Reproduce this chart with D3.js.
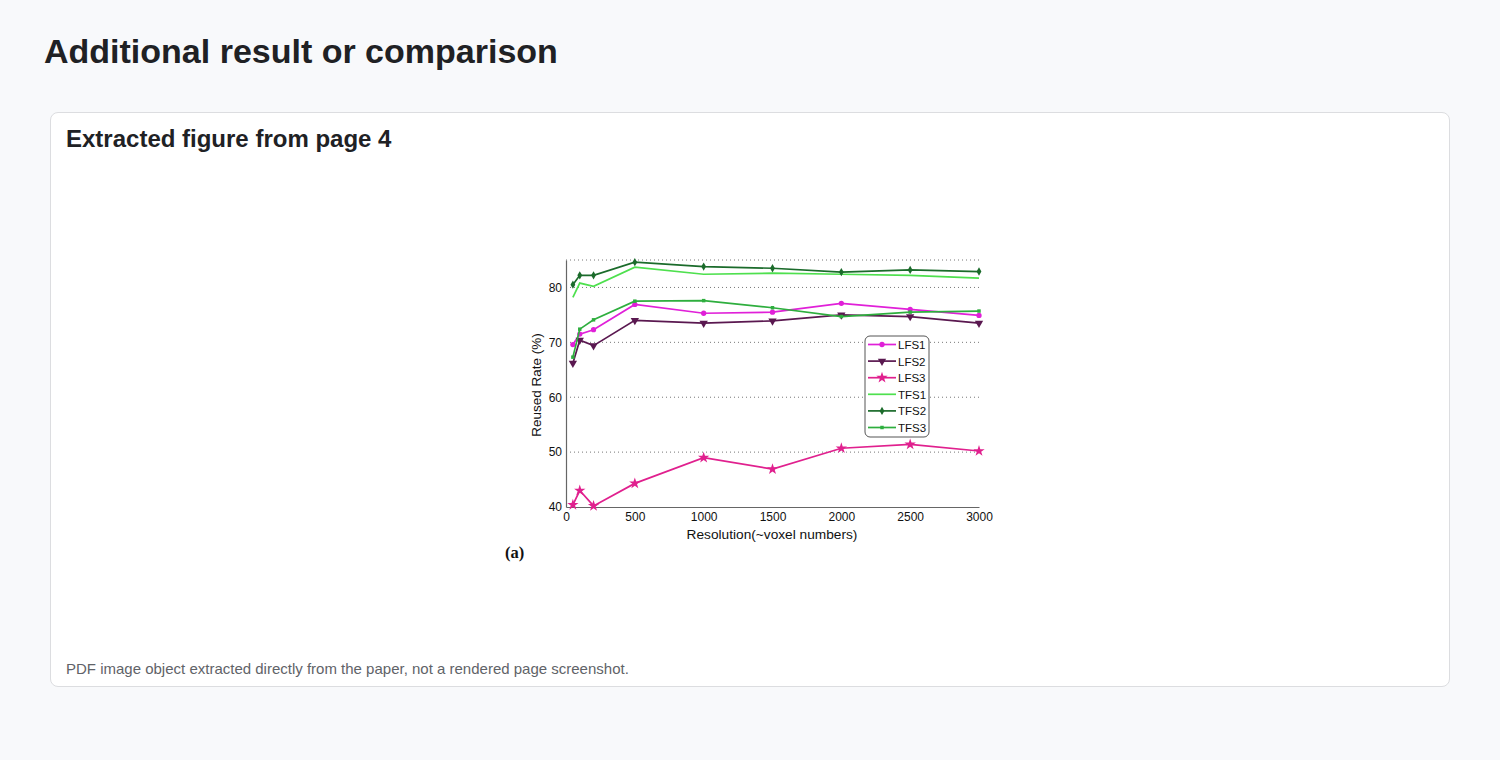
<!DOCTYPE html>
<html>
<head>
<meta charset="utf-8">
<script src="https://cdn.jsdelivr.net/npm/d3@7"></script>
<style>
  body { margin: 0; background: #f8f9fb; font-family: "Liberation Sans", Arial, sans-serif; color: #202124; }
  h1 { position: absolute; left: 44px; top: 32px; margin: 0; font-size: 34px; font-weight: bold; }
  .card { position: absolute; left: 50px; top: 112px; width: 1398px; height: 573px;
          background: #fff; border: 1px solid #dcdde0; border-radius: 8px; }
  .card h2 { position: absolute; left: 15px; top: 12px; margin: 0; font-size: 24px; font-weight: bold; }
  .card p { position: absolute; left: 15px; top: 547px; margin: 0; font-size: 15px; color: #5f6368; }
  svg { position: absolute; left: 0; top: 0; }
</style>
</head>
<body>
<h1>Additional result or comparison</h1>
<div class="card">
  <h2>Extracted figure from page 4</h2>
  <p>PDF image object extracted directly from the paper, not a rendered page screenshot.</p>
</div>
<script>
// Daten
const resolutions = [50, 100, 200, 500, 1000, 1500, 2000, 2500, 3000];
const xTicks = [0, 500, 1000, 1500, 2000, 2500, 3000];
const yTicks = [40, 50, 60, 70, 80];
const lfs1 = [69.6, 71.5, 72.3, 76.9, 75.3, 75.5, 77.1, 76.0, 74.9];
const lfs2 = [66.2, 70.4, 69.4, 74.0, 73.5, 73.9, 75.0, 74.7, 73.5];
const lfs3 = [40.4, 43.0, 40.2, 44.3, 49.0, 46.9, 50.7, 51.4, 50.2];
const tfs1 = [78.2, 80.8, 80.2, 83.7, 82.4, 82.6, 82.4, 82.2, 81.7];
const tfs2 = [80.5, 82.2, 82.2, 84.6, 83.8, 83.5, 82.8, 83.2, 82.9];
const tfs3 = [67.3, 72.4, 74.1, 77.5, 77.6, 76.3, 74.7, 75.5, 75.7];

const series = [
  { name: "LFS1", values: lfs1, color: "#e020d8", symbol: d3.symbolCircle, size: 22 },
  { name: "LFS2", values: lfs2, color: "#5a1850", symbol: "tri", size: 30 },
  { name: "LFS3", values: lfs3, color: "#e0208e", symbol: d3.symbolStar, size: 40 },
  { name: "TFS1", values: tfs1, color: "#4ee04e", symbol: null, size: 0 },
  { name: "TFS2", values: tfs2, color: "#1b6b2b", symbol: d3.symbolDiamond, size: 20 },
  { name: "TFS3", values: tfs3, color: "#2eae3e", symbol: d3.symbolSquare, size: 12 }
];

const svg = d3.select("body").append("svg")
    .attr("width", 1500)
    .attr("height", 760);

const x = d3.scaleLinear().domain([0, 3000]).range([566, 979]);
const y = d3.scaleLinear().domain([40, 85]).range([507, 260]);

const fig = svg.append("g").attr("font-family", "'Liberation Sans', Arial, sans-serif");

// Gitterlinien (gepunktet)
fig.append("g")
  .selectAll("line")
  .data([50, 60, 70, 80, 85])
  .join("line")
    .attr("x1", x(0)).attr("x2", x(3000))
    .attr("y1", d => y(d)).attr("y2", d => y(d))
    .attr("stroke", "#777")
    .attr("stroke-width", 1)
    .attr("stroke-dasharray", "1,3");

// Achsen
const xAxis = fig.append("g")
    .attr("transform", "translate(0," + y(40) + ")")
    .call(d3.axisBottom(x).tickValues(xTicks).tickFormat(d3.format("d")).tickSize(0).tickPadding(5));
const yAxis = fig.append("g")
    .attr("transform", "translate(" + x(0) + ",0)")
    .call(d3.axisLeft(y).tickValues(yTicks).tickFormat(d3.format("d")).tickSize(0).tickPadding(4));
[xAxis, yAxis].forEach(a => {
  a.select(".domain").attr("stroke", "#666").attr("stroke-width", 1.2);
  a.selectAll("text").attr("font-size", 12).attr("fill", "#111")
    .attr("font-family", "'Liberation Sans', Arial, sans-serif");
});

fig.append("text")
    .attr("x", 772).attr("y", 539)
    .attr("text-anchor", "middle")
    .attr("font-size", 13.7).attr("fill", "#111")
    .text("Resolution(~voxel numbers)");

fig.append("text")
    .attr("transform", "translate(541,385) rotate(-90)")
    .attr("text-anchor", "middle")
    .attr("font-size", 13.5).attr("fill", "#111")
    .text("Reused Rate (%)");

fig.append("text")
    .attr("x", 505).attr("y", 558)
    .attr("font-family", "'Liberation Serif', 'Times New Roman', serif")
    .attr("font-weight", "bold")
    .attr("font-size", 16.5).attr("fill", "#111")
    .text("(a)");

function markerPath(s) {
  if (s.symbol === "tri") {
    return d3.symbol().type(d3.symbolTriangle).size(s.size)();
  }
  return d3.symbol().type(s.symbol).size(s.size)();
}

const line = d3.line()
    .x((d, i) => x(resolutions[i]))
    .y(d => y(d));

series.forEach(s => {
  const g = fig.append("g");
  g.append("path")
    .attr("d", line(s.values))
    .attr("fill", "none")
    .attr("stroke", s.color)
    .attr("stroke-width", 1.7);
  if (s.symbol) {
    g.selectAll("path.m")
      .data(s.values)
      .join("path")
        .attr("class", "m")
        .attr("d", markerPath(s))
        .attr("transform", (d, i) => "translate(" + x(resolutions[i]) + "," + y(d) + ")" + (s.symbol === "tri" ? " rotate(180)" : ""))
        .attr("fill", s.color);
  }
});

// Legende
const legend = fig.append("g");
legend.append("rect")
    .attr("x", 865).attr("y", 336)
    .attr("width", 64).attr("height", 101)
    .attr("rx", 5)
    .attr("fill", "#fff")
    .attr("stroke", "#555")
    .attr("stroke-width", 1);

const item = legend.selectAll("g.item")
  .data(series)
  .join("g")
    .attr("class", "item")
    .attr("transform", (d, i) => "translate(0," + (344.5 + i * 16.6) + ")");
item.append("line")
    .attr("x1", 868).attr("x2", 896)
    .attr("stroke", d => d.color)
    .attr("stroke-width", 1.7);
item.filter(d => d.symbol).append("path")
    .attr("d", d => markerPath(d))
    .attr("transform", d => "translate(882,0)" + (d.symbol === "tri" ? " rotate(180)" : ""))
    .attr("fill", d => d.color);
item.append("text")
    .attr("x", 898).attr("y", 4.5)
    .attr("font-size", 11.5).attr("fill", "#111")
    .text(d => d.name);
</script>
</body>
</html>
